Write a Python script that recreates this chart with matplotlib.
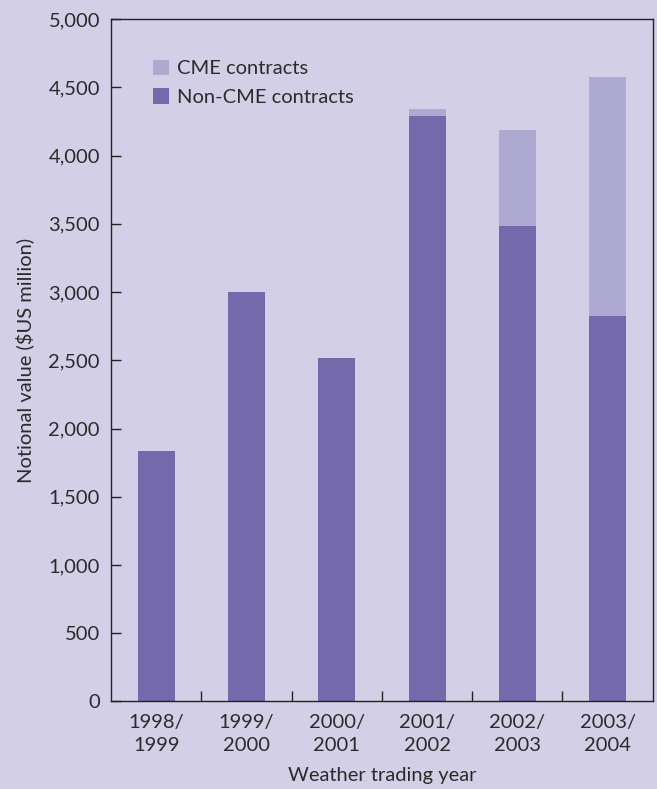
import numpy as np
import matplotlib
matplotlib.use("Agg")
import matplotlib.pyplot as plt
from matplotlib.patches import Patch
from matplotlib.ticker import FuncFormatter

# ── data ────────────────────────────────────────────────────────────────────
years = ["1998/\n1999", "1999/\n2000", "2000/\n2001", "2001/\n2002", "2002/\n2003", "2003/\n2004"]
non_cme = [1833, 3000, 2515, 4291, 3485, 2826]
cme = [0, 0, 0, 51, 703, 1750]

BG = "#d3cfe6"
DARK = "#7369ab"
LIGHT = "#aea9d1"
TXT = "#2b2b2b"

plt.rcParams['font.family'] = ['Lato', 'DejaVu Sans']

fig = plt.figure(figsize=(6.57, 7.89), dpi=100, facecolor=BG)
ax = fig.add_axes([0.169, 0.1109, 0.8245, 0.865])
ax.set_facecolor(BG)

x = np.arange(len(years))
ax.bar(x, non_cme, width=0.41, color=DARK, zorder=2)
ax.bar(x, cme, width=0.41, bottom=non_cme, color=LIGHT, zorder=2)

ax.set_xlim(-0.5, len(years) - 0.5)
ax.set_ylim(0, 5000)

# axes frame
for s in ax.spines.values():
    s.set_color("#222222")
    s.set_linewidth(1.0)

# y ticks
ax.set_yticks(np.arange(0, 5001, 500))
ax.yaxis.set_major_formatter(FuncFormatter(lambda v, p: f"{int(v):,}"))
ax.tick_params(axis='y', direction='in', length=7.2, width=1.0, pad=8,
               labelsize=14.5, labelcolor=TXT, color="#222222")

# x: labels at centres, separators between categories
ax.set_xticks(x)
ax.set_xticklabels(years)
ax.set_xticks(x[:-1] + 0.5, minor=True)
ax.tick_params(axis='x', which='major', length=0, pad=9,
               labelsize=14.5, labelcolor=TXT)
ax.tick_params(axis='x', which='minor', direction='in', length=7.2, width=1.0,
               color="#222222")
for t in ax.get_xticklabels():
    t.set_linespacing(1.45)

ax.set_xlabel("Weather trading year", fontsize=14.5, color=TXT, labelpad=9)
ax.set_ylabel("Notional value ($US million)", fontsize=14.5, color=TXT, labelpad=10)

handles = [Patch(facecolor=LIGHT, edgecolor='none', label="CME contracts"),
           Patch(facecolor=DARK, edgecolor='none', label="Non-CME contracts")]
ax.legend(handles=handles, loc='upper left', bbox_to_anchor=(0.063, 0.952),
          frameon=False, fontsize=14.5, handlelength=0.78, handleheight=0.78,
          handletextpad=0.4, labelspacing=0.55, borderaxespad=0,
          labelcolor=TXT)

fig.savefig("out.png", dpi=100, facecolor=BG)
